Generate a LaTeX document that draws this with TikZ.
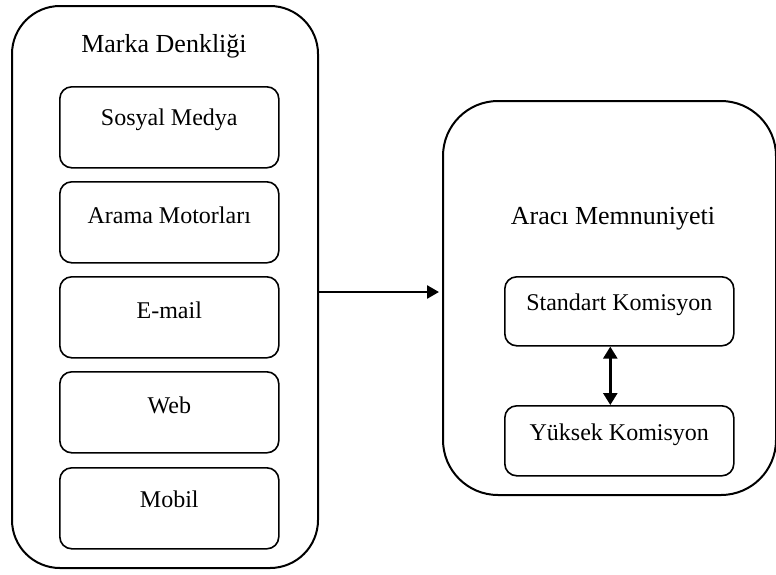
\documentclass[tikz,border=0pt]{standalone}
\usepackage{fontspec}
\setmainfont{Liberation Serif}
\usetikzlibrary{arrows.meta}
\begin{document}
\begin{tikzpicture}[x=1pt,y=-1pt,
  outerbox/.style={draw=black, line width=2pt, rounded corners=48pt, inner sep=0pt, anchor=north west},
  innerbox/.style={draw=black, line width=1.6pt, rounded corners=12pt, inner sep=0pt, anchor=north west},
  title/.style={font=\fontsize{26}{30}\selectfont, inner sep=0pt},
  lbl/.style={font=\fontsize{24}{28}\selectfont, inner sep=0pt},
  conn/.style={line width=2.6pt, -{Triangle[length=12pt,width=13pt]}},
  dconn/.style={line width=2.6pt, {Triangle[length=12pt,width=14pt]}-{Triangle[length=12pt,width=14pt]}}]
\useasboundingbox (0,0) rectangle (776,574);
% left container
\node[outerbox, minimum width=306pt, minimum height=562pt] (L) at (11,5) {};
\node[title] (Lt) at (164,46) {Marka Denkliği};
\node[innerbox, minimum width=219pt, minimum height=81pt] (b1) at (59,86) {};
\node[innerbox, minimum width=219pt, minimum height=81pt] (b2) at (59,181) {};
\node[innerbox, minimum width=219pt, minimum height=81pt] (b3) at (59,276) {};
\node[innerbox, minimum width=219pt, minimum height=81pt] (b4) at (59,371) {};
\node[innerbox, minimum width=219pt, minimum height=81pt] (b5) at (59,467) {};
\node[lbl] (t1) at ([yshift=-34pt]b1.north) {Sosyal Medya};
\node[lbl] (t2) at ([yshift=-34pt]b2.north) {Arama Motorları};
\node[lbl] (t3) at ([yshift=-34pt]b3.north) {E-mail};
\node[lbl] (t4) at ([yshift=-34pt]b4.north) {Web};
\node[lbl] (t5) at ([yshift=-32pt]b5.north) {Mobil};
% right container
\node[outerbox, rounded corners=55pt, minimum width=333pt, minimum height=394pt] (R) at (442,100) {};
\node[title] (Rt) at (613,219) {Aracı Memnuniyeti};
\node[innerbox, minimum width=229pt, minimum height=69pt] (s1) at (504,276) {};
\node[innerbox, minimum width=229pt, minimum height=70pt] (s2) at (504,405) {};
\node[lbl] (st1) at ([yshift=-29pt]s1.north) {Standart Komisyon};
\node[lbl] (st2) at ([yshift=-30pt]s2.north) {Yüksek Komisyon};
% connectors
\coordinate (a0) at (L.east |- 0,292);
\coordinate (a1) at (R.west |- 0,292);
\draw[conn] (a0) -- ([xshift=-3pt]a1);
\draw[dconn] ([xshift=-9pt]s1.south) -- ([xshift=-9pt]s2.north);
\end{tikzpicture}
\end{document}
